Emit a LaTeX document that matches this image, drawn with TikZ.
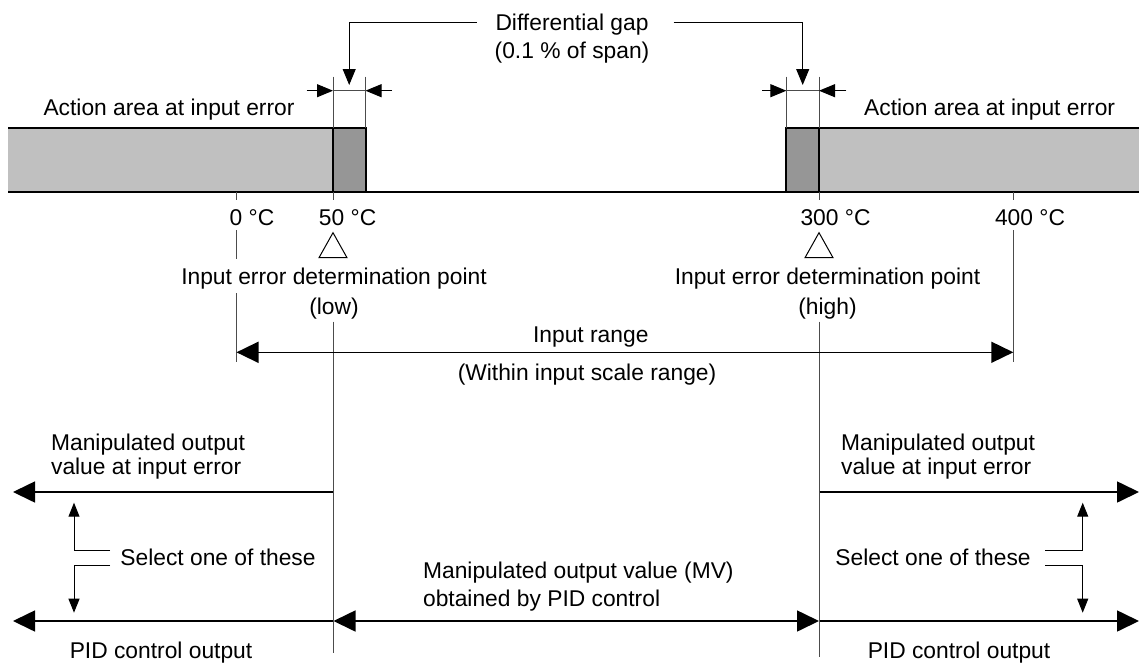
\documentclass[tikz,border=0pt]{standalone}
\usepackage{fontspec}
\setmainfont{Liberation Sans}
\usetikzlibrary{arrows.meta}
\definecolor{lightg}{HTML}{C0C0C0}
\definecolor{darkg}{HTML}{969696}
\begin{document}
\begin{tikzpicture}[x=0.5pt,y=-0.5pt,
  lbl/.style={inner sep=0pt, font=\fontsize{11.4pt}{13pt}\selectfont, anchor=base},
  lblw/.style={lbl, anchor=base west},
  thickln/.style={line width=1pt, black},
  thinln/.style={line width=0.5pt, black!70},
  arrln/.style={line width=0.8pt, -{Triangle[length=11pt,width=10.5pt]}},
  darr/.style={line width=0.8pt, {Triangle[length=11pt,width=10.5pt]}-{Triangle[length=11pt,width=10.5pt]}},
  dimarr/.style={line width=0.5pt, -{Triangle[length=8pt,width=6.5pt]}},
  brk/.style={line width=0.5pt, -{Triangle[length=7pt,width=5.5pt]}},
  tri/.style={line width=0.5pt, black},
]
\useasboundingbox (0,0) rectangle (1139,664);

% ---------- bars ----------
\fill[lightg] (8,127.7) rectangle (333,192.3);
\fill[darkg] (333,127.7) rectangle (365.5,192.3);
\fill[darkg] (786.4,127.7) rectangle (819,192.3);
\fill[lightg] (819,127.7) rectangle (1139,192.3);
\coordinate (bl0) at (8,127.7);
\coordinate (bl1) at (365.5,127.7);
\coordinate (bl2) at (365.5,192.3);
\coordinate (bl3) at (333,127.7);
\coordinate (bl4) at (333,192.3);
\coordinate (br0) at (786.4,192.3);
\coordinate (br1) at (786.4,127.7);
\coordinate (br2) at (1139,127.7);
\coordinate (br3) at (819,127.7);
\coordinate (br4) at (819,192.3);
\draw[thickln] (bl0) -- (bl1) -- (bl2);
\draw[thickln] (bl3) -- (bl4);
\draw[thickln] (br0) -- (br1) -- (br2);
\draw[thickln] (br3) -- (br4);
\coordinate (ax0) at (8,192.3);
\coordinate (ax1) at (1139,192.3);
\draw[thickln] (ax0) -- (ax1);

% ---------- differential gap ----------
\node[lbl] (dg1) at (572,30) {Differential gap};
\node[lbl] (dg2) at (572,58) {(0.1 \% of span)};
\coordinate (gl0) at (476.7,22.5);
\coordinate (gl1) at (349.2,22.5);
\coordinate (gl2) at (349.2,85);
\draw[dimarr] (gl0) -- (gl1) -- (gl2);
\coordinate (gr0) at (673.6,22.5);
\coordinate (gr1) at (802.7,22.5);
\coordinate (gr2) at (802.7,85);
\draw[dimarr] (gr0) -- (gr1) -- (gr2);

% extension lines of the gaps
\coordinate (el0) at (333,76.7);
\coordinate (el1) at (365.5,76.7);
\coordinate (er0) at (786.4,76.7);
\coordinate (er1) at (819,76.7);
\draw[thinln] (el0) -- (bl3);
\draw[thinln] (el1) -- (bl1);
\draw[thinln] (er0) -- (br1);
\draw[thinln] (er1) -- (br3);
% dimension arrows
\coordinate (dl0) at (306.5,90.7);
\coordinate (dl1) at (333,90.7);
\coordinate (dl2) at (365.5,90.7);
\coordinate (dl3) at (392,90.7);
\draw[dimarr] (dl0) -- (dl1);
\draw[dimarr] (dl3) -- (dl2);
\draw[thinln] (dl1) -- (dl2);
\coordinate (dr0) at (762,90.7);
\coordinate (dr1) at (786.4,90.7);
\coordinate (dr2) at (819,90.7);
\coordinate (dr3) at (846.4,90.7);
\draw[dimarr] (dr0) -- (dr1);
\draw[dimarr] (dr3) -- (dr2);
\draw[thinln] (dr1) -- (dr2);

\node[lbl] (aal) at (169,115) {Action area at input error};
\node[lbl] (aar) at (989.6,115) {Action area at input error};

% ---------- scale ----------
\node[lbl] (c0) at (252,225) {0 °C};
\node[lbl] (c50) at (347.6,225) {50 °C};
\node[lbl] (c300) at (835.5,225) {300 °C};
\node[lbl] (c400) at (1030,225) {400 °C};

\foreach \x/\n in {236.5/a,333/b,819/c,1013.3/d}{
  \coordinate (tk\n0) at (\x,192.3);
  \coordinate (tk\n1) at (\x,200);
  \draw[thinln] (tk\n0) -- (tk\n1);
}
% 0 degC extension line
\coordinate (va0) at (236.5,230);
\coordinate (va1) at (236.5,259.3);
\coordinate (va2) at (236.5,293.3);
\coordinate (va3) at (236.5,362);
\draw[thinln] (va0) -- (va1);
\draw[thinln] (va2) -- (va3);
% 400 degC extension line
\coordinate (vd0) at (1013.3,230);
\coordinate (vd1) at (1013.3,362);
\draw[thinln] (vd0) -- (vd1);
% 50 / 300 lines
\coordinate (vb0) at (333,321.7);
\coordinate (vb1) at (333,653);
\draw[thinln] (vb0) -- (vb1);
\coordinate (vc0) at (819.5,321.7);
\coordinate (vc1) at (819.5,656.7);
\draw[thinln] (vc0) -- (vc1);

% triangles
\coordinate (ta0) at (333,232.7);
\coordinate (ta1) at (319,257.7);
\coordinate (ta2) at (347,257.7);
\draw[tri] (ta0) -- (ta1) -- (ta2) -- cycle;
\coordinate (tb0) at (819,232.7);
\coordinate (tb1) at (805,257.7);
\coordinate (tb2) at (833,257.7);
\draw[tri] (tb0) -- (tb1) -- (tb2) -- cycle;

\node[lbl] (iel1) at (334,284) {Input error determination point};
\node[lbl] (iel2) at (334,314) {(low)};
\node[lbl] (ieh1) at (827.5,284) {Input error determination point};
\node[lbl] (ieh2) at (827.5,314) {(high)};

% input range
\node[lbl] (ir1) at (590.8,342) {Input range};
\node[lbl] (ir2) at (587,380.7) {(Within input scale range)};
\coordinate (ir0) at (236.5,352.3);
\coordinate (ir9) at (1013.3,352.3);
\draw[darr] (ir0) -- (ir9);

% ---------- outputs ----------
\node[lblw] (mol1) at (50.7,450.7) {Manipulated output};
\node[lblw] (mol2) at (50.7,474.7) {value at input error};
\node[lblw] (mor1) at (840.7,450.7) {Manipulated output};
\node[lblw] (mor2) at (840.7,474.7) {value at input error};

\coordinate (ul0) at (333,492);
\coordinate (ul1) at (13,492);
\draw[arrln] (ul0) -- (ul1);
\coordinate (ur0) at (819.5,492);
\coordinate (ur1) at (1139,492);
\draw[arrln] (ur0) -- (ur1);

\coordinate (ll0) at (333,621);
\coordinate (ll1) at (13,621);
\draw[arrln] (ll0) -- (ll1);
\coordinate (lr0) at (819.5,621);
\coordinate (lr1) at (1139,621);
\draw[arrln] (lr0) -- (lr1);
\coordinate (lm0) at (333.5,621);
\coordinate (lm1) at (819,621);
\draw[darr] (lm0) -- (lm1);

\node[lblw] (sol) at (120,565) {Select one of these};
\node[lblw] (sor) at (835,565) {Select one of these};

\coordinate (sl0) at (110,550);
\coordinate (sl1) at (74,550);
\coordinate (sl2) at (74,502.7);
\draw[brk] (sl0) -- (sl1) -- (sl2);
\coordinate (sl3) at (110,565);
\coordinate (sl4) at (74,565);
\coordinate (sl5) at (74,612.7);
\draw[brk] (sl3) -- (sl4) -- (sl5);

\coordinate (sr0) at (1045,550);
\coordinate (sr1) at (1082.7,550);
\coordinate (sr2) at (1082.7,502.7);
\draw[brk] (sr0) -- (sr1) -- (sr2);
\coordinate (sr3) at (1045,565);
\coordinate (sr4) at (1082.7,565);
\coordinate (sr5) at (1082.7,612.7);
\draw[brk] (sr3) -- (sr4) -- (sr5);

\node[lblw] (mv1) at (422.7,578.7) {Manipulated output value (MV)};
\node[lblw] (mv2) at (422.7,606.3) {obtained by PID control};

\node[lbl] (pidl) at (161,658) {PID control output};
\node[lbl] (pidr) at (959,658) {PID control output};
\end{tikzpicture}
\end{document}
